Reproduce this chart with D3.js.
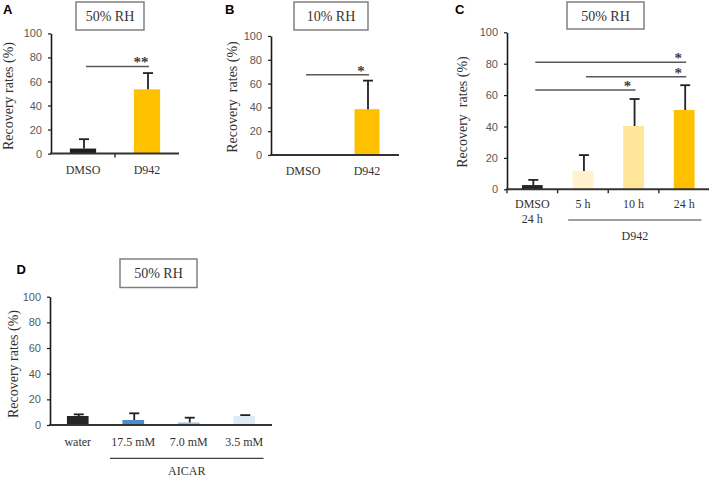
<!DOCTYPE html>
<html><head><meta charset="utf-8">
<script src="https://cdn.jsdelivr.net/npm/d3@7"></script>
<style>body{margin:0;background:#fff}svg{display:block}</style>
</head><body>
<svg id="chart" width="709" height="479"></svg>
<script>
// ---------- data ----------
const yTicks = [0, 20, 40, 60, 80, 100];

const catsA = ["DMSO", "D942"];
const valsA = [4.2, 53.5];
const errsA = [7.8, 13.5];
const sigA = [{from: "DMSO", to: "D942", y: 72.5, label: "**"}];

const catsB = ["DMSO", "D942"];
const valsB = [0, 38.5];
const errsB = [0, 24];
const sigB = [{from: "DMSO", to: "D942", y: 67.5, label: "*"}];

const catsC = ["DMSO|24 h", "5 h", "10 h", "24 h"];
const valsC = [2.7, 11.7, 40.3, 50.5];
const errsC = [3.3, 10.1, 17.2, 15.8];
const sigC = [
  {from: "DMSO|24 h", to: "24 h", y: 80.9, label: "*"},
  {from: "5 h", to: "24 h", y: 71.7, label: "*"},
  {from: "DMSO|24 h", to: "10 h", y: 63.2, label: "*"}
];
const groupC = {label: "D942", from: "5 h", to: "24 h"};

const catsD = ["water", "17.5 mM", "7.0 mM", "3.5 mM"];
const valsD = [7, 3.9, 2, 7];
const errsD = [1.3, 5.2, 3.7, 0.7];
const groupD = {label: "AICAR", from: "17.5 mM", to: "3.5 mM"};

// ---------- layout / style ----------
const panels = [
  {letter: "A", title: "50% RH", cats: catsA, vals: valsA, errs: errsA, sig: sigA,
   colors: ["#1f1f1f", "#ffc000"], xr: [51, 179], yr: [153.6, 33.4],
   box: [76, 2, 68, 28], letterPos: [3, 13.5], ylab: "Recovery rates (%)", ylabX: 13, ylabY: 96,
   catY: 173.5, xTicks: "inner", barFrac: 0.41},
  {letter: "B", title: "10% RH", cats: catsB, vals: valsB, errs: errsB, sig: sigB,
   colors: ["#1f1f1f", "#ffc000"], xr: [271, 399], yr: [155, 36],
   box: [294, 2, 74, 28], letterPos: [225, 13.5], ylab: "Recovery  rates (%)", ylabX: 237, ylabY: 97,
   catY: 175, xTicks: "none", barFrac: 0.39},
  {letter: "C", title: "50% RH", cats: catsC, vals: valsC, errs: errsC, sig: sigC, group: groupC,
   colors: ["#262626", "#fff2cc", "#ffe699", "#ffc000"], xr: [507, 709.5], yr: [189.3, 32.3],
   box: [567, 2, 77, 27], letterPos: [455, 13.5], ylab: "Recovery  rates (%)", ylabX: 467, ylabY: 112,
   catY: 208, xTicks: "all", barFrac: 0.41, groupLineY: 220, groupLabY: 240, groupOff: [10.5, -8]},
  {letter: "D", title: "50% RH", cats: catsD, vals: valsD, errs: errsD, sig: [], group: groupD,
   colors: ["#262626", "#4a8ccf", "#9dc3e6", "#ddebf7"], xr: [50, 272], yr: [425, 296.7],
   box: [120, 259, 77, 28.5], letterPos: [16.5, 274], ylab: "Recovery rates (%)", ylabX: 18, ylabY: 364,
   catY: 446, xTicks: "none", barFrac: 0.39, groupLineY: 458.3, groupLabY: 475, groupOff: [4.5, -8.5]}
];

const svg = d3.select("#chart");
const serif = "'Liberation Serif', 'Times New Roman', serif";
const sans = "'Liberation Sans', Arial, sans-serif";

panels.forEach(p => {
  const g = svg.append("g");
  const x = d3.scaleBand().domain(p.cats).range(p.xr).padding(0);
  const y = d3.scaleLinear().domain([0, 100]).range(p.yr);
  const bw = x.bandwidth() * p.barFrac;
  const cx = c => x(c) + x.bandwidth() / 2;

  // panel letter
  g.append("text").attr("x", p.letterPos[0]).attr("y", p.letterPos[1])
    .attr("font-family", sans).attr("font-weight", "bold").attr("font-size", 13)
    .attr("fill", "#000").text(p.letter);

  // title box
  g.append("rect").attr("x", p.box[0]).attr("y", p.box[1]).attr("width", p.box[2]).attr("height", p.box[3])
    .attr("fill", "#fff").attr("stroke", "#808080").attr("stroke-width", 1.5);
  g.append("text").attr("x", p.box[0] + p.box[2] / 2).attr("y", p.box[1] + p.box[3] / 2 + 5)
    .attr("text-anchor", "middle").attr("font-family", serif).attr("font-size", 14)
    .attr("fill", "#333").text(p.title);

  // y axis
  const ax = g.append("g").attr("transform", `translate(${p.xr[0]},0)`)
    .call(d3.axisLeft(y).tickValues(yTicks).tickSize(3).tickSizeOuter(0).tickPadding(6));
  ax.select(".domain").attr("stroke", "#1a1a1a").attr("stroke-width", 1.6);
  ax.selectAll(".tick line").attr("stroke", "#1a1a1a").attr("stroke-width", 1.2);
  ax.selectAll(".tick text").attr("font-family", sans).attr("font-size", 11).attr("fill", "#595959");

  // y label
  g.append("text").attr("transform", `translate(${p.ylabX},${p.ylabY}) rotate(-90)`)
    .attr("text-anchor", "middle").attr("font-family", serif).attr("font-size", 14)
    .attr("fill", "#333").attr("xml:space", "preserve").style("white-space", "pre").text(p.ylab);

  // bars
  g.selectAll("rect.bar").data(p.cats.map((c, i) => ({c, v: p.vals[i], e: p.errs[i], col: p.colors[i]})))
    .enter().filter(d => d.v > 0).append("rect").attr("class", "bar")
    .attr("x", d => cx(d.c) - bw / 2).attr("width", bw)
    .attr("y", d => y(d.v)).attr("height", d => y(0) - y(d.v)).attr("fill", d => d.col);

  // error bars
  p.cats.forEach((c, i) => {
    if (p.vals[i] <= 0 && p.errs[i] <= 0) return;
    const ex = cx(c) + 1, top = y(p.vals[i] + p.errs[i]);
    g.append("line").attr("x1", ex).attr("x2", ex).attr("y1", y(p.vals[i])).attr("y2", top)
      .attr("stroke", "#222").attr("stroke-width", 1.8);
    g.append("line").attr("x1", ex - 5).attr("x2", ex + 5).attr("y1", top).attr("y2", top)
      .attr("stroke", "#222").attr("stroke-width", 1.8);
  });

  // x axis line
  g.append("line").attr("x1", p.xr[0] - 1).attr("x2", p.xr[1]).attr("y1", y(0)).attr("y2", y(0))
    .attr("stroke", "#333").attr("stroke-width", 2);
  let tks = [];
  if (p.xTicks === "inner") tks = p.cats.slice(1).map(c => x(c));
  if (p.xTicks === "all") tks = p.cats.map(c => x(c));
  tks.forEach(t => g.append("line").attr("x1", t).attr("x2", t).attr("y1", y(0)).attr("y2", y(0) + 4)
    .attr("stroke", "#333").attr("stroke-width", 1.5));

  // category labels
  p.cats.forEach(c => {
    const lines = c.split("|");
    const t = g.append("text").attr("text-anchor", "middle").attr("font-family", serif)
      .attr("font-size", 12).attr("fill", "#333");
    lines.forEach((ln, k) => t.append("tspan").attr("x", cx(c)).attr("y", p.catY + k * 15).text(ln));
  });

  // significance lines
  p.sig.forEach(s => {
    const x1 = cx(s.from) + 3, x2 = cx(s.to) + 2, yy = y(s.y);
    g.append("line").attr("x1", x1).attr("x2", x2).attr("y1", yy).attr("y2", yy)
      .attr("stroke", "#595959").attr("stroke-width", 1.5);
    g.append("text").attr("x", x2 - 8).attr("y", yy + 1).attr("text-anchor", "middle")
      .attr("font-family", serif).attr("font-weight", "bold").attr("font-size", 15)
      .attr("fill", "#404040").text(s.label);
  });

  // group label
  if (p.group) {
    const gx1 = x(p.group.from) + p.groupOff[0];
    const gx2 = x(p.group.to) + x.bandwidth() + p.groupOff[1];
    g.append("line").attr("x1", gx1).attr("x2", gx2).attr("y1", p.groupLineY).attr("y2", p.groupLineY)
      .attr("stroke", "#404040").attr("stroke-width", 1.2);
    g.append("text").attr("x", (gx1 + gx2) / 2).attr("y", p.groupLabY).attr("text-anchor", "middle")
      .attr("font-family", serif).attr("font-size", 12).attr("fill", "#333").text(p.group.label);
  }
});
</script>
</body></html>
